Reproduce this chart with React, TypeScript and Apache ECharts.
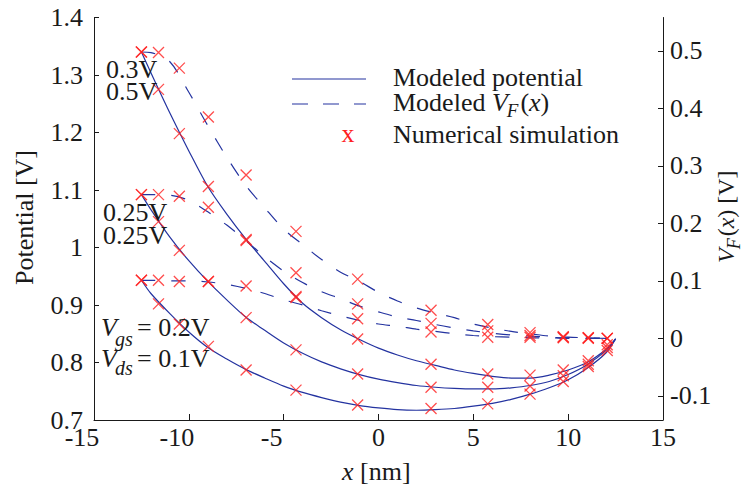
import React, { useEffect, useRef } from 'react';
import * as echarts from 'echarts';

const SERIF = '"Liberation Serif", "Times New Roman", serif';
const BLUE = '#2433a0';
const RED = '#ff2020';
const INK = '#1a1a1a';
const FS = 26;

// Position along the channel [nm] of the numerical-simulation samples
const simX = [-12.5, -11.6, -10.5, -8.97, -6.98, -4.35, -1.1, 2.77, 5.76, 7.99, 9.74, 11.06, 12.06];

// Numerical simulation, potential [V]
const simPotA = [1.340, 1.275, 1.198, 1.106, 1.014, 0.913, 0.841, 0.797, 0.780, 0.778, 0.787, 0.803, 0.831]; // Vgs 0.3 V, Vds 0.5 V
const simPotB = [1.092, 1.045, 0.995, 0.941, 0.878, 0.822, 0.780, 0.757, 0.757, 0.759, 0.777, 0.797, 0.826]; // Vgs 0.25 V, Vds 0.25 V
const simPotC = [0.943, 0.902, 0.867, 0.828, 0.787, 0.752, 0.726, 0.720, 0.728, 0.745, 0.767, 0.793, 0.821]; // Vgs 0.2 V, Vds 0.1 V

// Numerical simulation, V_F(x) [V]
const simVfA = [0.498, 0.497, 0.470, 0.385, 0.284, 0.186, 0.103, 0.049, 0.024, 0.010, 0.003, 0.001, 0.000];
const simVfB = [0.250, 0.250, 0.247, 0.228, 0.170, 0.114, 0.060, 0.026, 0.013, 0.005, 0.002, 0.001, 0.000];
const simVfC = [0.101, 0.101, 0.099, 0.099, 0.091, 0.073, 0.034, 0.011, 0.002, 0.002, 0.001, 0.000, 0.000];

// Model curves, sampled along x [nm]
const modelX = [-12.5, -12, -11, -10, -9, -8, -7, -6, -5, -4, -3, -2, -1, 0, 1, 2, 3, 4, 5, 6, 7, 8, 9, 10, 11, 12, 12.5];
const modelPotA = [1.340, 1.304, 1.234, 1.168, 1.106, 1.058, 1.015, 0.976, 0.937, 0.903, 0.878, 0.857, 0.840, 0.825, 0.813, 0.803, 0.795, 0.787, 0.781, 0.776, 0.773, 0.773, 0.778, 0.787, 0.800, 0.823, 0.841];
const modelPotB = [1.092, 1.066, 1.018, 0.977, 0.941, 0.909, 0.879, 0.856, 0.834, 0.816, 0.801, 0.789, 0.779, 0.771, 0.765, 0.760, 0.757, 0.755, 0.754, 0.754, 0.756, 0.760, 0.767, 0.779, 0.796, 0.821, 0.841];
const modelPotC = [0.943, 0.920, 0.885, 0.853, 0.826, 0.806, 0.788, 0.773, 0.759, 0.748, 0.739, 0.731, 0.725, 0.721, 0.718, 0.717, 0.718, 0.720, 0.724, 0.729, 0.736, 0.745, 0.756, 0.770, 0.790, 0.817, 0.841];
const modelVfA = [0.498, 0.497, 0.481, 0.428, 0.370, 0.315, 0.266, 0.227, 0.190, 0.163, 0.137, 0.115, 0.099, 0.080, 0.065, 0.053, 0.044, 0.036, 0.025, 0.018, 0.012, 0.008, 0.004, 0.002, 0.001, 0.000, 0.000];
const modelVfB = [0.250, 0.250, 0.249, 0.240, 0.220, 0.197, 0.170, 0.142, 0.117, 0.097, 0.081, 0.069, 0.056, 0.046, 0.037, 0.031, 0.024, 0.018, 0.013, 0.009, 0.006, 0.004, 0.002, 0.001, 0.001, 0.000, 0.000];
const modelVfC = [0.101, 0.101, 0.100, 0.100, 0.098, 0.094, 0.087, 0.078, 0.067, 0.058, 0.048, 0.039, 0.031, 0.025, 0.021, 0.016, 0.012, 0.008, 0.005, 0.003, 0.002, 0.001, 0.001, 0.000, 0.000, 0.000, 0.000];

// Axis ranges
const X_RANGE = [-15, 15];
const X_STEP = 5;
const POT_RANGE = [0.7, 1.4];
const POT_STEP = 0.1;
const VF_RANGE = [-0.142, 0.558];
const vfTicks = [-0.1, 0, 0.1, 0.2, 0.3, 0.4, 0.5];

// Curve labels
const labelsA = ['0.3V', '0.5V'];
const labelsB = ['0.25V', '0.25V'];
const legendNames = ['Modeled potential', 'Modeled ', 'Numerical simulation'];

const pairs = (xs: number[], ys: number[]) => xs.map((x, i) => [x, ys[i]]);

let ctx: CanvasRenderingContext2D | null = null;
function measure(t: string, size: number, italic?: boolean) {
  if (!ctx) ctx = document.createElement('canvas').getContext('2d');
  if (!ctx) return t.length * size * 0.5;
  ctx.font = `${italic ? 'italic ' : ''}${size}px ${SERIF}`;
  return ctx.measureText(t).width;
}

type Run = { t: string; it?: boolean; fs?: number; dy?: number; gap?: number; fill?: string };
function textRuns(x0: number, y0: number, runs: Run[], baseSize = FS) {
  let x = x0;
  const out: any[] = [];
  for (const r of runs) {
    const fs = r.fs ?? baseSize;
    x += r.gap ?? 0;
    out.push({
      type: 'text',
      x,
      y: y0 + (r.dy ?? 0),
      z: 100,
      silent: true,
      style: {
        text: r.t,
        fontFamily: SERIF,
        fontSize: fs,
        fontStyle: r.it ? 'italic' : 'normal',
        fill: r.fill ?? INK,
        align: 'left',
        verticalAlign: 'middle',
      },
    });
    x += measure(r.t, fs, r.it);
  }
  return out;
}

function lineSeries(ys: number[], yAxisIndex: number, dashed: boolean) {
  return {
    type: 'line',
    data: pairs(modelX, ys),
    yAxisIndex,
    symbol: 'none',
    showSymbol: false,
    smooth: 0.3,
    silent: true,
    z: 2,
    lineStyle: { color: BLUE, width: 1.2, type: dashed ? [14, 16] : 'solid' },
  };
}

function crossSeries(ys: number[], yAxisIndex: number) {
  return {
    type: 'scatter',
    data: pairs(simX, ys),
    yAxisIndex,
    symbol: 'path://M0,0L10,10M10,0L0,10',
    symbolSize: 11,
    silent: true,
    z: 3,
    itemStyle: { color: 'transparent', borderColor: RED, borderWidth: 1.3 },
  };
}

const axisLine = { show: true, onZero: false, lineStyle: { color: INK, width: 1 } };
const tickStyle = { color: INK, width: 1 };
const labelFont = { fontFamily: SERIF, fontSize: FS, color: INK };

function buildOption() {
  const graphic: any[] = [
    // axis titles
    {
      type: 'text', x: 24, y: 217.5, rotation: Math.PI / 2, z: 100, silent: true,
      style: { text: 'Potential [V]', fontFamily: SERIF, fontSize: FS, fill: INK, align: 'center', verticalAlign: 'middle' },
    },
    ...textRuns(342, 471, [{ t: 'x', it: true }, { t: ' [nm]' }]),
    {
      type: 'group', x: 726, y: 263, rotation: Math.PI / 2,
      children: textRuns(0, 0, [
        { t: 'V', it: true },
        { t: 'F', it: true, fs: 18, dy: 8, gap: -1 },
        { t: '(', gap: 2 },
        { t: 'x', it: true },
        { t: ')' },
        { t: ' [V]' },
      ], 24),
    },
    // legend
    { type: 'line', z: 100, silent: true, shape: { x1: 292, y1: 79, x2: 366, y2: 79 }, style: { stroke: BLUE, lineWidth: 1.2 } },
    { type: 'line', z: 100, silent: true, shape: { x1: 292, y1: 104, x2: 366, y2: 104 }, style: { stroke: BLUE, lineWidth: 1.2, lineDash: [16, 15] } },
    ...textRuns(341.5, 133, [{ t: 'x', fill: RED }]),
    ...textRuns(393, 77, [{ t: legendNames[0] }]),
    ...textRuns(393, 102, [
      { t: legendNames[1] },
      { t: 'V', it: true },
      { t: 'F', it: true, fs: 19, dy: 8, gap: -1 },
      { t: '(', gap: 2 },
      { t: 'x', it: true },
      { t: ')' },
    ]),
    ...textRuns(393, 134, [{ t: legendNames[2] }]),
    // curve annotations
    ...textRuns(106, 69, [{ t: labelsA[0] }]),
    ...textRuns(106, 91, [{ t: labelsA[1] }]),
    ...textRuns(103, 212, [{ t: labelsB[0] }]),
    ...textRuns(103, 235, [{ t: labelsB[1] }]),
    ...textRuns(101, 327, [{ t: 'V', it: true }]),
    ...textRuns(115, 339, [{ t: 'gs', it: true, fs: 20 }]),
    ...textRuns(137, 327, [{ t: '= 0.2V' }]),
    ...textRuns(101, 358, [{ t: 'V', it: true }]),
    ...textRuns(115, 368, [{ t: 'ds', it: true, fs: 20 }]),
    ...textRuns(137, 358, [{ t: '= 0.1V' }]),
  ];

  return {
    animation: false,
    backgroundColor: '#ffffff',
    grid: { left: 94, right: 87, top: 17.5, bottom: 70, containLabel: false },
    xAxis: {
      type: 'value',
      min: X_RANGE[0],
      max: X_RANGE[1],
      interval: X_STEP,
      axisLine,
      axisTick: { show: true, inside: true, length: 6, lineStyle: tickStyle },
      splitLine: { show: false },
      axisLabel: {
        ...labelFont,
        margin: 4,
        formatter: (v: number) => (v < 0 ? `{n|${v}}` : `${v}`),
        rich: { n: { ...labelFont, padding: [0, 24, 0, 0] } },
      },
    },
    yAxis: [
      {
        type: 'value',
        position: 'left',
        min: POT_RANGE[0],
        max: POT_RANGE[1],
        interval: POT_STEP,
        axisLine,
        axisTick: { show: true, inside: true, length: 5, lineStyle: tickStyle },
        splitLine: { show: false },
        axisLabel: { ...labelFont, margin: 11 },
      },
      {
        type: 'value',
        position: 'right',
        min: VF_RANGE[0],
        max: VF_RANGE[1],
        axisLine,
        axisTick: { show: true, inside: true, length: 5, lineStyle: tickStyle, customValues: vfTicks },
        splitLine: { show: false },
        axisLabel: { ...labelFont, margin: 7, customValues: vfTicks },
      },
    ],
    series: [
      lineSeries(modelPotA, 0, false),
      lineSeries(modelPotB, 0, false),
      lineSeries(modelPotC, 0, false),
      lineSeries(modelVfA, 1, true),
      lineSeries(modelVfB, 1, true),
      lineSeries(modelVfC, 1, true),
      crossSeries(simPotA, 0),
      crossSeries(simPotB, 0),
      crossSeries(simPotC, 0),
      crossSeries(simVfA, 1),
      crossSeries(simVfB, 1),
      crossSeries(simVfC, 1),
    ],
    graphic,
  };
}

export default function App() {
  const ref = useRef<HTMLDivElement>(null);
  useEffect(() => {
    const el = ref.current;
    if (!el) return;
    const chart = echarts.init(el, undefined, { renderer: 'svg' });
    chart.setOption(buildOption() as any);
    return () => chart.dispose();
  }, []);
  return (
    <div
      ref={ref}
      style={{ position: 'fixed', left: 0, top: 0, width: 750, height: 490, background: '#fff' }}
    />
  );
}
